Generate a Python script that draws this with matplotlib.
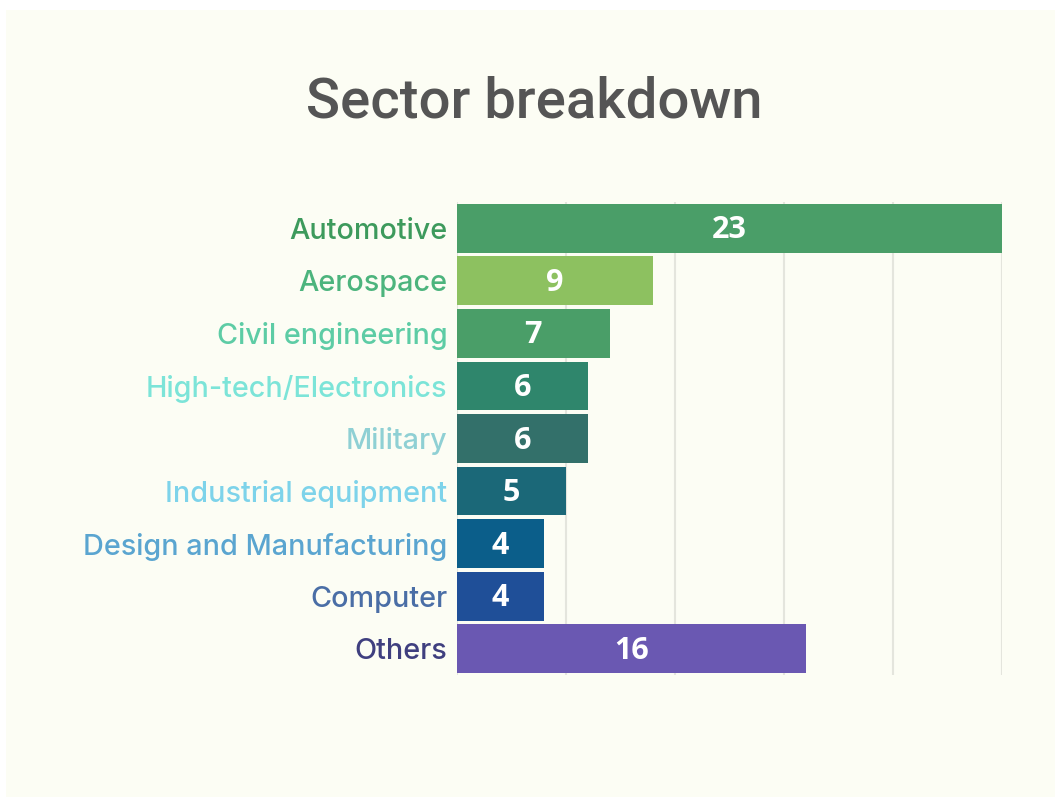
import matplotlib
matplotlib.use('Agg')
import matplotlib.pyplot as plt
from matplotlib.patches import Rectangle

sectors = ['Automotive', 'Aerospace', 'Civil engineering', 'High-tech/Electronics',
           'Military', 'Industrial equipment', 'Design and Manufacturing', 'Computer', 'Others']
# bar lengths as drawn (Automotive bar runs to the end of the axis)
values = [25, 9, 7, 6, 6, 5, 4, 4, 16]
value_labels = ['23', '9', '7', '6', '6', '5', '4', '4', '16']

bar_colors = ['#4a9e68', '#8dc160', '#4a9e68', '#2f866c', '#33706a',
              '#1b6878', '#0b5e8a', '#1f4f98', '#6a58b2']
label_colors = ['#3d9a5c', '#4cb47d', '#5dcca5', '#7ce4d8', '#8fd0d4',
                '#7dd3ea', '#5aa5d0', '#4a6ea6', '#3f3f7f']

W, H = 1055, 798
fig = plt.figure(figsize=(W / 100, H / 100), dpi=100)
fig.patch.set_facecolor('white')
fig.patches.append(Rectangle((6 / W, 1 / H), 1 - 6 / W, (H - 11) / H,
                             transform=fig.transFigure, facecolor='#fcfdf4',
                             edgecolor='none', zorder=-10))

ax = fig.add_axes([457 / W, 1 - 675 / H, 545 / W, 473 / H])
ax.set_facecolor('none')

ypos = list(range(len(sectors)))
ax.barh(ypos, values, height=0.93, color=bar_colors, zorder=3)

for y, v, lab in zip(ypos, values, value_labels):
    ax.text(v / 2, y + 0.04, lab, ha='center', va='center', color='white',
            fontsize=22, fontweight='bold', family='Open Sans', zorder=4)

ax.set_xlim(0, 25)
ax.set_ylim(len(sectors) - 0.5, -0.5)
ax.set_xticks([0, 5, 10, 15, 20, 25])
ax.xaxis.grid(True, color='#e4e5dd', linewidth=1.5, zorder=0)
ax.tick_params(axis='x', length=0, labelbottom=False)
ax.tick_params(axis='y', length=0, pad=7)
ax.set_yticks(ypos)
ax.set_yticklabels(sectors, fontsize=20.7, family='Inter', fontweight='medium')
for tl, c in zip(ax.get_yticklabels(), label_colors):
    tl.set_color(c)
for s in ax.spines.values():
    s.set_visible(False)

fig.text(534 / W, 1 - 117 / H, 'Sector breakdown', ha='center', va='baseline',
         fontsize=40.5, color='#555555', family='Roboto', fontweight='medium')

fig.savefig('out.png', dpi=100)
